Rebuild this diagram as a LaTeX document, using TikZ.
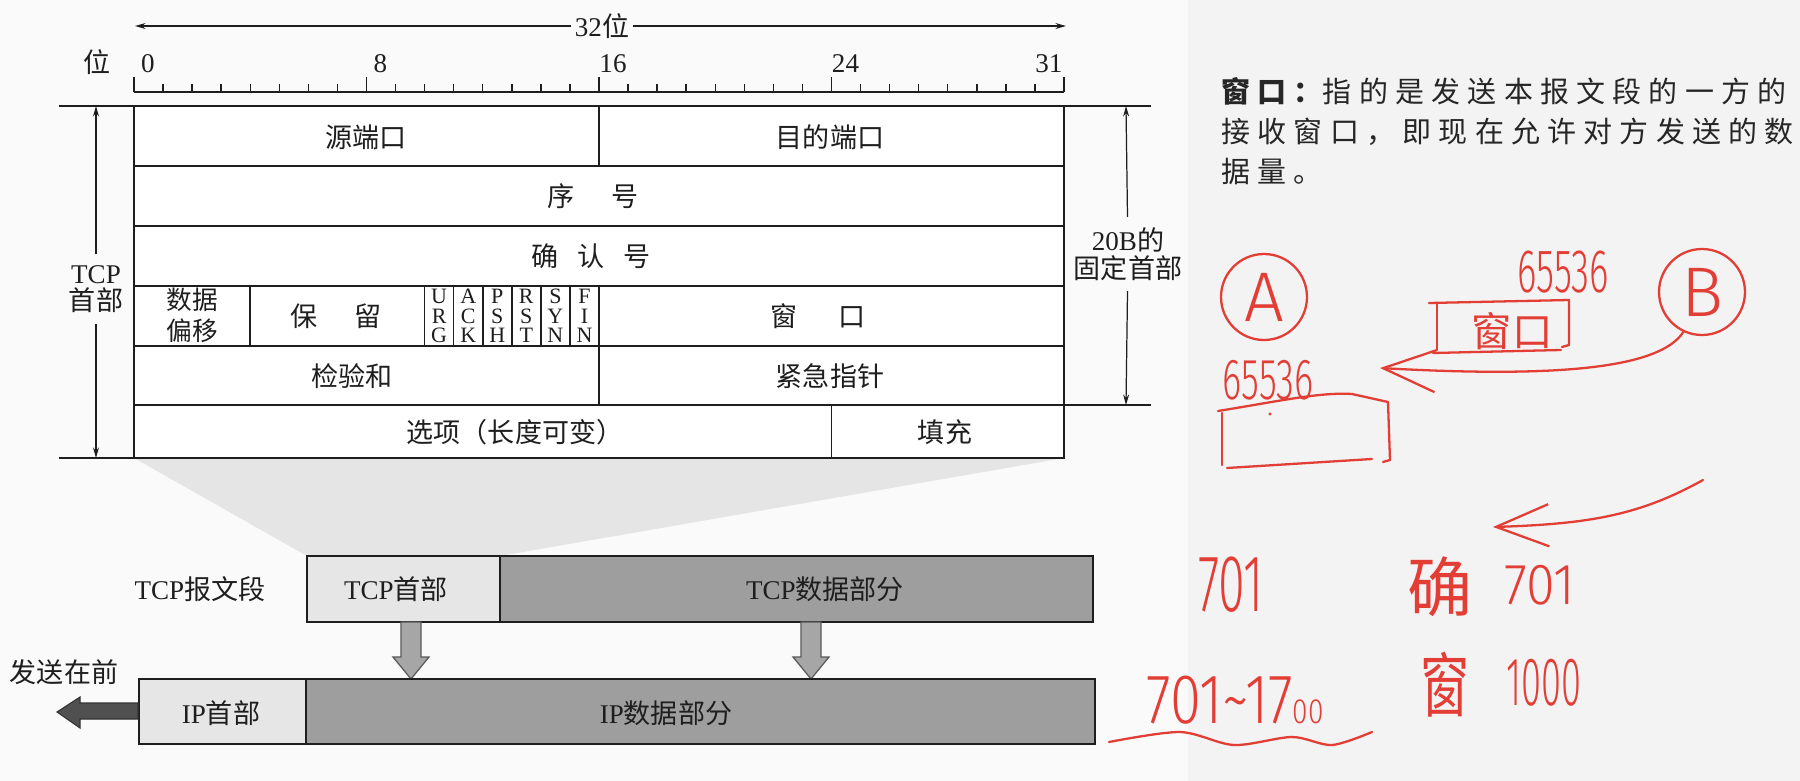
\documentclass[tikz,border=0pt]{standalone}
\usepackage{fontspec}
\usepackage{graphicx}
\usepackage{tikz}
\usetikzlibrary{arrows.meta}
\setmainfont{Liberation Serif}
\newfontfamily\cjk{Noto Sans CJK SC}
\newfontfamily\notefont{Noto Sans CJK SC}[LetterSpace = 25]
\newfontfamily\handfont{Fira Sans Light}
\definecolor{ink}{RGB}{30,30,30}
\definecolor{penred}{RGB}{226,62,54}
\definecolor{headgray}{RGB}{230,230,230}
\definecolor{datagray}{RGB}{158,158,158}
\definecolor{fangray}{RGB}{229,229,229}
\definecolor{sendgray}{RGB}{80,80,80}
\definecolor{panelgray}{RGB}{243,243,243}
\tikzstyle{every node} = [align = center, inner sep = 0pt, text = ink]
\tikzstyle{field} = [font = \fontsize{15.4}{15.6}\selectfont]
\tikzstyle{cfield} = [font = \fontsize{15.4}{15.6}\selectfont\cjk]
\tikzstyle{flag} = [font = \fontsize{12.5}{11.2}\selectfont]
\tikzstyle{note} = [font = \fontsize{16.5}{22.8}\selectfont\notefont, text = black!85]
\tikzstyle{rule} = [draw = ink, line width = 0.9pt]
\tikzstyle{frame} = [draw = ink, line width = 1.5pt]
\tikzstyle{tick} = [draw = ink, line width = 0.8pt]
\tikzstyle{dim} = [draw = ink, line width = 0.7pt, -{Stealth[length = 6pt, width = 3.4pt]}]
\tikzstyle{segment} = [draw = ink, line width = 1pt]
\tikzstyle{downarrow} = [draw = black!65, fill = black!35, line width = 0.7pt]
\tikzstyle{pen} = [draw = penred, line width = 1.3pt, line cap = round, line join = round]
\tikzstyle{penhead} = [-{Straight Barb[length = 30pt, width = 24pt]}]
\tikzset{hand/.style = {text = penred, font = \handfont\fontsize{#1}{#1}\selectfont}}

\begin{document}
\begin{tikzpicture}[x = 0.02cm, y = -0.02cm]
    \useasboundingbox (0, 0) rectangle (1800, 781);
    \fill [white!98!black] (0, 0) rectangle (1188, 781);
    \fill [panelgray] (1188, 0) rectangle (1800, 781);

    \node [field, inner sep = 2pt, fill = white!98!black] (width) at (602, 26) {32{\cjk 位}};
    \coordinate (wl) at (135, 26);
    \coordinate (wr) at (1066, 26);
    \draw [dim] (width) -- (wl);
    \draw [dim] (width) -- (wr);
    \node [cfield] (bitunit) at (97, 62) {位};
    \draw [tick] (134, 92) -- (1064, 92);
    \foreach \b in {0,...,32}
        \draw [tick] (134 + \b * 29.0625, 92) -- ++(0, -8);
    \foreach \b in {0, 8, 16, 24, 32}
        \draw [tick] (134 + \b * 29.0625, 92) -- ++(0, -15);
    \foreach \b in {0, 8, 16, 24, 31}
        \node [field] (bit\b) at (134 + \b * 29.0625 + 14, 64) {\b};

    \fill [fangray] (134, 458) -- (1064, 458) -- (500, 556) -- (307, 556) -- cycle;
    \fill [white] (134, 106) rectangle (1064, 458);
    \foreach \y in {166, 226, 286, 346, 405}
        \draw [rule] (134, \y) -- (1064, \y);
    \draw [rule] (599, 106) -- (599, 166);
    \foreach \b in {4, 10, 11, 12, 13, 14, 15, 16}
        \draw [rule] (134 + \b * 29.0625, 286) -- (134 + \b * 29.0625, 346);
    \draw [rule] (599, 346) -- (599, 405);
    \draw [rule] (831.5, 405) -- (831.5, 458);
    \draw [frame] (134, 106) rectangle (1064, 458);

    \node [cfield] (srcport) at (366, 137) {源端口};
    \node [cfield] (dstport) at (830, 137) {目的端口};
    \node [cfield] (seqno) at (593, 196) {序\hspace{1.35em}号};
    \node [cfield] (ackno) at (591, 256) {确\hspace{0.7em}认\hspace{0.7em}号};
    \node [cfield, font = \fontsize{14.6}{17.5}\selectfont\cjk] (offset) at (192, 315) {数据\\偏移};
    \node [cfield] (reserved) at (336, 316) {保\hspace{1.35em}留};
    \foreach \p/\q/\r [count = \i from 10] in {U/R/G, A/C/K, P/S/H, R/S/T, S/Y/N, F/I/N}
        \node [flag] (flag\i) at (134 + \i * 29.0625 + 14.5, 316) {\p\\\q\\\r};
    \node [cfield] (window) at (818, 316) {窗\hspace{1.5em}口};
    \node [cfield] (checksum) at (352, 376) {检验和};
    \node [cfield] (urgent) at (830, 376) {紧急指针};
    \node [cfield] (options) at (515, 432) {选项（长度可变）};
    \node [cfield] (padding) at (945, 432) {填充};

    \draw [tick] (59, 106) -- (134, 106);
    \draw [tick] (59, 458) -- (134, 458);
    \node [field, inner sep = 6pt] (tcphdr) at (96, 289) {TCP\\{\cjk 首部}};
    \coordinate (lt) at (96, 106);
    \coordinate (lb) at (96, 458);
    \draw [dim] (tcphdr) -- (lt);
    \draw [dim] (tcphdr) -- (lb);
    \draw [tick] (1064, 106) -- (1151, 106);
    \draw [tick] (1064, 405) -- (1151, 405);
    \node [field, inner sep = 6pt] (fixhdr) at (1128, 254) {20B{\cjk 的}\\{\cjk 固定首部}};
    \coordinate (rt) at (1126, 106);
    \coordinate (rb) at (1126, 405);
    \draw [dim] (fixhdr) -- (rt);
    \draw [dim] (fixhdr) -- (rb);

    \node [field] (seglabel) at (200, 589) {TCP{\cjk 报文段}};
    \draw [segment, fill = headgray] (307, 556) rectangle (500, 622);
    \draw [segment, fill = datagray] (500, 556) rectangle (1093, 622);
    \node [field] (tcph) at (396, 589) {TCP{\cjk 首部}};
    \node [field] (tcpd) at (825, 589) {TCP{\cjk 数据部分}};
    \foreach \x in {411, 811}
        \draw [downarrow] (\x - 10, 622) -- (\x + 10, 622) -- (\x + 10, 657) -- (\x + 18, 657)
            -- (\x, 679) -- (\x - 18, 657) -- (\x - 10, 657) -- cycle;
    \draw [segment, fill = headgray] (139, 679) rectangle (306, 744);
    \draw [segment, fill = datagray] (306, 679) rectangle (1095, 744);
    \node [field] (iph) at (221, 713) {IP{\cjk 首部}};
    \node [field] (ipd) at (666, 713) {IP{\cjk 数据部分}};
    \node [cfield] (sendfirst) at (64, 672) {发送在前};
    \draw [draw = black!80, fill = sendgray, line width = 0.6pt] (138, 703) -- (80, 703) -- (80, 697)
        -- (57, 712) -- (80, 728) -- (80, 719) -- (138, 719) -- cycle;

    \node [note, anchor = base west] (note1) at (1221, 102) {{\bfseries 窗口：}指的是发送本报文段的一方的};
    \node [note, anchor = base west] (note2) at (1221, 142) {接收窗口，即现在允许对方发送的数};
    \node [note, anchor = base west] (note3) at (1221, 182) {据量。};

    \node [pen, circle, minimum size = 1.72cm, hand = 40] (nodeA) at (1264, 297) {A};
    \node [pen, circle, minimum size = 1.72cm, hand = 40] (nodeB) at (1702, 292) {B};
    \node [hand = 35] (numB) at (1563, 272) {\scalebox{0.6}[1]{65536}};
    \draw [pen] (1429, 303) -- (1569, 300) -- (1569, 345) -- (1562, 347);
    \draw [pen] (1437, 303) -- (1437, 350);
    \draw [pen] (1433, 353) -- (1561, 350);
    \node [hand = 23, font = \cjk\fontsize{23}{23}\selectfont] (winB) at (1512, 331) {窗口};
    \coordinate (tipA) at (1380, 368);
    \draw [pen, penhead] (nodeB.245) .. controls (1660, 368) and (1560, 378) .. (tipA);
    \node [hand = 33] (numA) at (1268, 380) {\scalebox{0.63}[1]{65536}};
    \draw [pen] (1218, 411) .. controls (1280, 401) and (1320, 392) .. (1352, 394) -- (1388, 402)
        -- (1390, 460) -- (1383, 462);
    \draw [pen] (1222, 413) -- (1222, 465);
    \draw [pen] (1227, 468) -- (1372, 459);
    \fill [penred] (1270, 414) circle (1.6);

    \coordinate (tail2) at (1703, 480);
    \coordinate (tip2) at (1493, 527);
    \draw [pen, penhead] (tail2) .. controls (1640, 515) and (1590, 524) .. (tip2);
    \node [hand = 46] (seqA) at (1231, 585) {\scalebox{0.6}[1]{701}};
    \node [hand = 37, font = \cjk\fontsize{37}{37}\selectfont] (ackword) at (1440, 587) {确};
    \node [hand = 33] (ackB) at (1540, 585) {\scalebox{0.9}[1]{701}};
    \node [hand = 40, font = \cjk\fontsize{40}{40}\selectfont] (winword) at (1445, 685) {\scalebox{0.7}[1]{窗}};
    \node [hand = 39] (winB2) at (1544, 683) {\scalebox{0.53}[1]{1000}};
    \node [hand = 40] (range) at (1235, 700) {\scalebox{0.8}[1]{701\textasciitilde 17{\fontsize{20}{20}\selectfont 00}}};
    \draw [pen] plot [smooth] coordinates {(1109, 742) (1180, 732) (1234, 745) (1292, 737) (1332, 745) (1372, 732)};
\end{tikzpicture}
\end{document}
